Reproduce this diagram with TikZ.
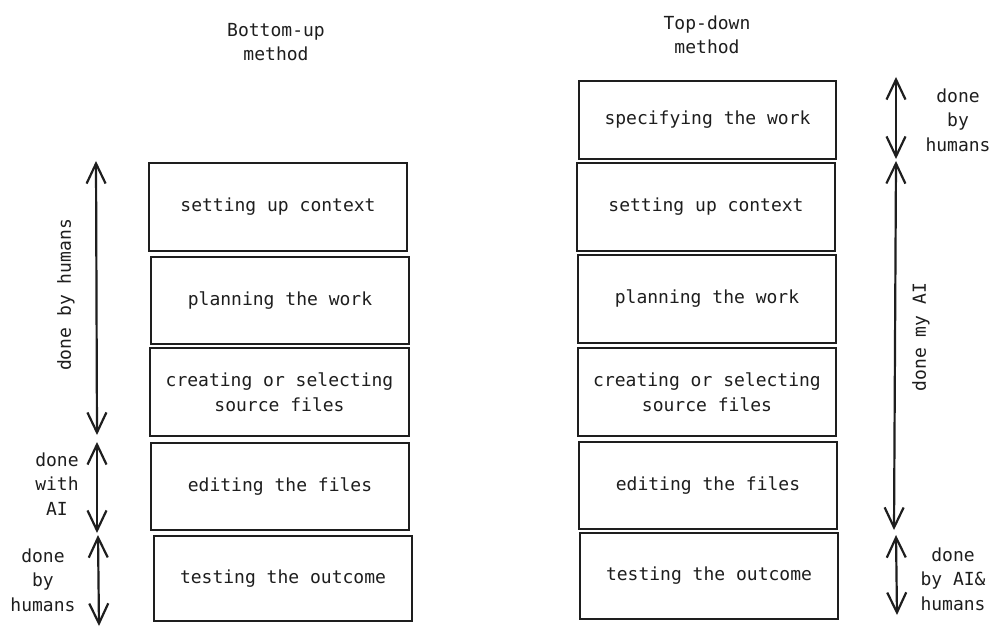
\documentclass[tikz,border=0pt]{standalone}
\usepackage{fontspec}
\setmainfont{DejaVu Sans Mono}
\usetikzlibrary{arrows.meta}
\definecolor{ink}{HTML}{1E1E1E}
\tikzset{
  stepbox/.style={draw=ink, line width=2.1pt, rectangle, inner sep=0pt, outer sep=0pt,
    minimum width=258pt, minimum height=88pt, align=center, text=ink,
    font=\fontsize{18}{24.5}\selectfont},
  lbl/.style={align=center, text=ink, inner sep=0pt, font=\fontsize{18}{24.5}\selectfont},
  span/.style={draw=ink, line width=2.2pt, {Straight Barb[length=20pt,width=19pt,line width=2.2pt]}-{Straight Barb[length=20pt,width=19pt,line width=2.2pt]}}
}
\begin{document}
\begin{tikzpicture}[x=1pt,y=-1pt]
\useasboundingbox[fill=white] (0,0) rectangle (1000,636);
% titles
\node[lbl] (tl) at (276,42) {Bottom-up\\method};
\node[lbl] (tr) at (707,35) {Top-down\\method};
% left column
\node[stepbox] (l1) at (278,207) {\strut setting up context};
\node[stepbox, minimum height=87pt] (l2) at (280,300.5) {\strut planning the work};
\node[stepbox, minimum width=259pt] (l3) at (279.5,392) {creating or selecting\\source files};
\node[stepbox, minimum height=87pt] (l4) at (280,486.5) {\strut editing the files};
\node[stepbox, minimum height=85pt] (l5) at (283,578.5) {\strut testing the outcome};
% right column
\node[stepbox, minimum width=257pt, minimum height=78pt] (r0) at (707.5,120) {\strut specifying the work};
\node[stepbox] (r1) at (706,207) {\strut setting up context};
\node[stepbox] (r2) at (707,299) {\strut planning the work};
\node[stepbox] (r3) at (707,392) {creating or selecting\\source files};
\node[stepbox, minimum height=87pt] (r4) at (708,485.5) {\strut editing the files};
\node[stepbox, minimum height=86pt] (r5) at (709,576) {\strut testing the outcome};
% left spans
\coordinate (a1t) at (96,161);
\coordinate (a1b) at (97,435);
\coordinate (a2t) at (97,442);
\coordinate (a2b) at (97,533);
\coordinate (a3t) at (98,535);
\coordinate (a3b) at (99,626);
\draw[span] (a1t) -- (a1b);
\draw[span] (a2t) -- (a2b);
\draw[span] (a3t) -- (a3b);
\node[lbl, rotate=90] (h1) at (66,295) {done by humans};
\node[lbl] (h2) at (57,484) {done\\with\\AI};
\node[lbl] (h3) at (43,580) {done\\by\\humans};
% right spans
\coordinate (b1t) at (896,77);
\coordinate (b1b) at (896,159);
\coordinate (b2t) at (896,161);
\coordinate (b2b) at (894,530);
\coordinate (b3t) at (896,535);
\coordinate (b3b) at (897,615);
\draw[span] (b1t) -- (b1b);
\draw[span] (b2t) -- (b2b);
\draw[span] (b3t) -- (b3b);
\node[lbl] (g1) at (958,120) {done\\by\\humans};
\node[lbl, rotate=90] (g2) at (921,337) {done my AI};
\node[lbl] (g3) at (953,579) {done\\by AI\&\\humans};
\end{tikzpicture}
\end{document}
